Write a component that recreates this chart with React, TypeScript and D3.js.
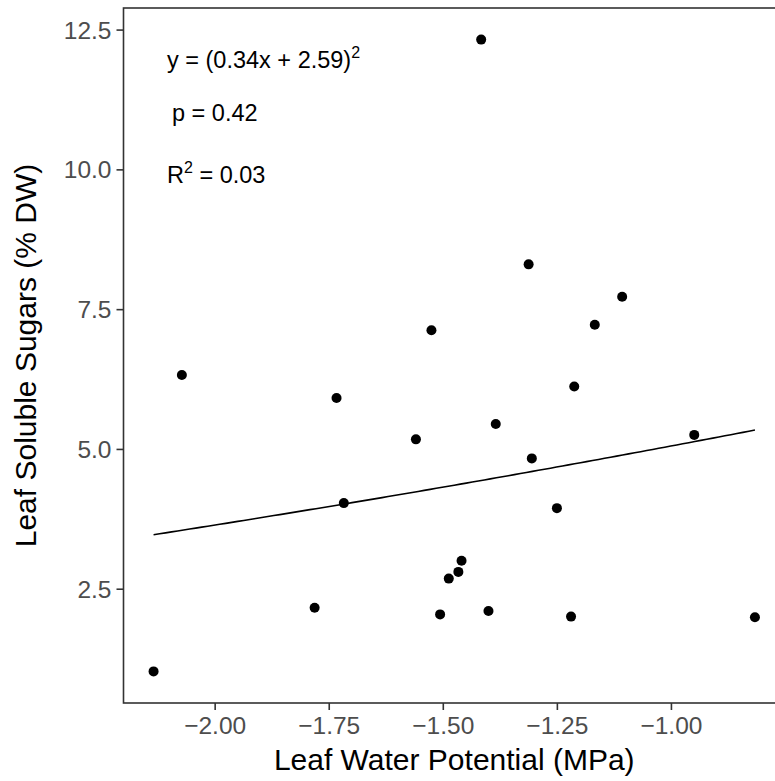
import React from "react";
import * as d3 from "d3";

const waterPotential = [
  -2.135, -2.073, -1.782, -1.734, -1.718, -1.56, -1.526, -1.507, -1.488, -1.467, -1.46, -1.417,
  -1.401, -1.385, -1.313, -1.306, -1.251, -1.22, -1.213, -1.168, -1.108, -0.95, -0.817,
];
const solubleSugars = [
  1.03, 6.33, 2.17, 5.92, 4.04, 5.18, 7.13, 2.05, 2.69, 2.81, 3.01, 12.33,
  2.11, 5.455, 8.31, 4.84, 3.95, 2.01, 6.125, 7.23, 7.73, 5.26, 2.0,
];
const fitSlope = 0.34;
const fitIntercept = 2.59;
const xTicks = [-2.0, -1.75, -1.5, -1.25, -1.0];
const yTicks = [2.5, 5.0, 7.5, 10.0, 12.5];

const W = 775;
const H = 781;
const left = 123.5;
const right = 785;
const top = 8;
const bottom = 703;

export default function App() {
  const xMin = d3.min(waterPotential)!;
  const xMax = d3.max(waterPotential)!;
  const yMin = d3.min(solubleSugars)!;
  const yMax = d3.max(solubleSugars)!;
  const xPad = (xMax - xMin) * 0.05;
  const yPad = (yMax - yMin) * 0.05;
  const x = d3.scaleLinear().domain([xMin - xPad, xMax + xPad]).range([left, right]);
  const y = d3.scaleLinear().domain([yMin - yPad, yMax + yPad]).range([bottom, top]);

  const fitX = d3.range(0, 101).map((i) => xMin + ((xMax - xMin) * i) / 100);
  const line = d3
    .line<number>()
    .x((d) => x(d))
    .y((d) => y(Math.pow(fitSlope * d + fitIntercept, 2)));

  const axisColor = "#333333";
  const tickText = "#4d4d4d";
  const font = "Liberation Sans, Arial, sans-serif";

  return (
    <svg
      width={W}
      height={H}
      style={{ position: "absolute", left: 0, top: 0, background: "#fff" }}
      fontFamily={font}
    >
      <rect x={0} y={0} width={W} height={H} fill="#fff" />
      {/* panel border */}
      <rect
        x={left}
        y={top}
        width={right - left}
        height={bottom - top}
        fill="none"
        stroke={axisColor}
        strokeWidth={1.6}
      />
      {/* fit line */}
      <path d={line(fitX) || ""} fill="none" stroke="#000" strokeWidth={1.6} />
      {/* points */}
      {waterPotential.map((v, i) => (
        <circle key={i} cx={x(v)} cy={y(solubleSugars[i])} r={5} fill="#000" />
      ))}
      {/* x ticks */}
      {xTicks.map((t) => (
        <g key={t}>
          <line x1={x(t)} x2={x(t)} y1={bottom} y2={bottom + 7} stroke={axisColor} strokeWidth={1.6} />
          <text x={x(t)} y={734} textAnchor="middle" fontSize={24.5} fill={tickText}>
            {"\u2212" + Math.abs(t).toFixed(2)}
          </text>
        </g>
      ))}
      {/* y ticks */}
      {yTicks.map((t) => (
        <g key={t}>
          <line x1={left - 7} x2={left} y1={y(t)} y2={y(t)} stroke={axisColor} strokeWidth={1.6} />
          <text x={left - 12} y={y(t) + 8.5} textAnchor="end" fontSize={24.5} fill={tickText}>
            {t.toFixed(1)}
          </text>
        </g>
      ))}
      {/* axis titles */}
      <text x={(left + right) / 2} y={770} textAnchor="middle" fontSize={30} fill="#000">
        Leaf Water Potential (MPa)
      </text>
      <text
        transform={`translate(36,${(top + bottom) / 2}) rotate(-90)`}
        textAnchor="middle"
        fontSize={30}
        fill="#000"
      >
        Leaf Soluble Sugars (% DW)
      </text>
      {/* annotations */}
      <text x={167} y={68} fontSize={23.5} fill="#000">
        {"y = (0.34x + 2.59)"}
        <tspan dy={-10} fontSize={16}>2</tspan>
      </text>
      <text x={172} y={121} fontSize={23.5} fill="#000">
        {"p = 0.42"}
      </text>
      <text x={167} y={183} fontSize={23.5} fill="#000">
        {"R"}
        <tspan dy={-10} fontSize={16}>2</tspan>
        <tspan dy={10}>{" = 0.03"}</tspan>
      </text>
    </svg>
  );
}
